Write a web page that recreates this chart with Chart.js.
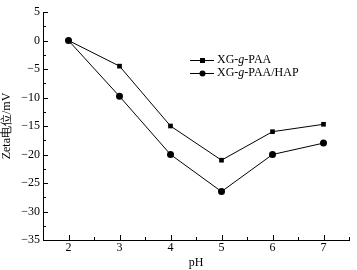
<!DOCTYPE html>
<html>
<head>
<meta charset="utf-8">
<script src="https://cdn.jsdelivr.net/npm/chart.js@4.4.0/dist/chart.umd.min.js"></script>
<style>
  html, body { margin: 0; padding: 0; background: #fff; }
  #wrap { width: 357px; height: 270px; }
</style>
</head>
<body>
<div id="wrap"><canvas id="chartZeta" width="357" height="270"></canvas></div>
<script>
var phValues = [2, 3, 4, 5, 6, 7];
var zetaPAA = [0, -4.5, -15, -21, -16, -14.7];
var zetaHAP = [0, -9.8, -20, -26.5, -20, -18];
var seriesNames = ['XG-g-PAA', 'XG-g-PAA/HAP'];
var yTicks = [5, 0, -5, -10, -15, -20, -25, -30, -35];

var fontFam = '"Liberation Serif", "Times New Roman", serif';

// inward ticks (major + minor) and the legend inside the plot
var extras = {
    id: 'extras',
    afterDraw: function (chart) {
        var ctx = chart.ctx;
        var xs = chart.scales.x, ys = chart.scales.y;
        ctx.save();
        ctx.strokeStyle = '#000';
        ctx.lineWidth = 1;
        for (var v = 1.5; v <= 7.5; v += 0.5) {
            var len = Number.isInteger(v) ? 5 : 3;
            var px = Math.round(xs.getPixelForValue(v)) + 0.5;
            ctx.beginPath();
            ctx.moveTo(px, ys.bottom);
            ctx.lineTo(px, ys.bottom - len);
            ctx.stroke();
        }
        for (var w = -35; w <= 5; w += 2.5) {
            var l2 = (w % 5 === 0) ? 5 : 3;
            var py = Math.round(ys.getPixelForValue(w)) + 0.5;
            ctx.beginPath();
            ctx.moveTo(xs.left, py);
            ctx.lineTo(xs.left + l2, py);
            ctx.stroke();
        }
        // legend
        var lx = 190, rows = [60, 73];
        ctx.textBaseline = 'middle';
        ctx.fillStyle = '#000';
        rows.forEach(function (y, i) {
            ctx.beginPath();
            ctx.moveTo(lx, y + 0.5);
            ctx.lineTo(lx + 24, y + 0.5);
            ctx.stroke();
            if (i === 0) {
                ctx.fillRect(lx + 10, y - 2, 5, 5);
            } else {
                ctx.beginPath();
                ctx.arc(lx + 12.5, y + 0.5, 3, 0, Math.PI * 2);
                ctx.fill();
            }
            var parts = seriesNames[i].split('g');
            var tx = lx + 27;
            ctx.font = '12px ' + fontFam;
            ctx.fillText(parts[0], tx, y);
            tx += ctx.measureText(parts[0]).width;
            ctx.font = 'italic 12px ' + fontFam;
            ctx.fillText('g', tx, y);
            tx += ctx.measureText('g').width;
            ctx.font = '12px ' + fontFam;
            ctx.fillText(parts.slice(1).join('g'), tx, y);
        });
        ctx.restore();
    }
};

var cmc = document.getElementById('chartZeta');
var chartZeta = new Chart(cmc, {
    type: 'line',
    plugins: [extras],
    data: {
        datasets: [
            {
                label: seriesNames[0],
                data: phValues.map(function (p, i) { return { x: p, y: zetaPAA[i] }; }),
                borderColor: '#000',
                backgroundColor: '#000',
                borderWidth: 1,
                pointStyle: 'rect',
                pointRadius: 3.3,
                pointBorderWidth: 0
            },
            {
                label: seriesNames[1],
                data: phValues.map(function (p, i) { return { x: p, y: zetaHAP[i] }; }),
                borderColor: '#000',
                backgroundColor: '#000',
                borderWidth: 1,
                pointStyle: 'circle',
                pointRadius: 3.5,
                pointBorderWidth: 0
            }
        ]
    },
    options: {
        responsive: false,
        animation: false,
        layout: { padding: { top: 12, right: 8, left: 0, bottom: 0 } },
        plugins: {
            legend: { display: false },
            tooltip: { enabled: false }
        },
        scales: {
            x: {
                type: 'linear',
                min: 1.5,
                max: 7.5,
                afterFit: function (s) { s.height = 30; },
                afterBuildTicks: function (s) {
                    s.ticks = phValues.map(function (v) { return { value: v }; });
                },
                ticks: {
                    color: '#000',
                    padding: 1,
                    font: { family: fontFam, size: 12 },
                    maxRotation: 0
                },
                grid: {
                    drawOnChartArea: false,
                    drawTicks: false
                },
                border: { color: '#000', width: 1 },
                title: {
                    display: true,
                    text: 'pH',
                    color: '#000',
                    padding: 0,
                    font: { family: fontFam, size: 12 }
                }
            },
            y: {
                min: -35,
                max: 5,
                afterFit: function (s) { s.width = 43; },
                afterBuildTicks: function (s) {
                    s.ticks = yTicks.map(function (v) { return { value: v }; });
                },
                ticks: {
                    color: '#000',
                    padding: 3,
                    font: { family: fontFam, size: 12 },
                    callback: function (v) { return v < 0 ? '\u2212' + Math.abs(v) : v; }
                },
                grid: {
                    drawOnChartArea: false,
                    drawTicks: false
                },
                border: { color: '#000', width: 1 },
                title: {
                    display: true,
                    text: 'Zeta电位/mV',
                    color: '#000',
                    padding: 0,
                    font: { family: fontFam, size: 12 }
                }
            }
        }
    }
});
</script>
</body>
</html>
